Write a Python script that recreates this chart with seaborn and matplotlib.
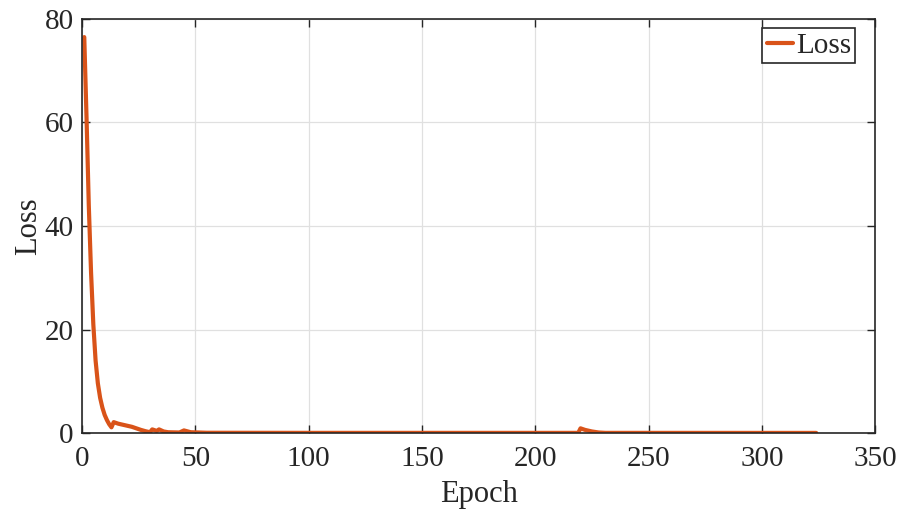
import seaborn as sns
import matplotlib.pyplot as plt
import pandas as pd

# values
epochs = [1, 2, 3, 4, 5, 6, 7, 8, 9, 10, 11, 12, 13, 14, 16, 18, 20, 22, 24,
          26, 28, 30, 31, 33, 34, 36, 38, 43, 45, 48, 55, 100, 219, 220, 222,
          225, 228, 231, 324]
losses = [76.5, 61.0, 44.0, 31.0, 21.0, 14.0, 9.6, 6.8, 4.9, 3.5, 2.5, 1.7,
          1.1, 2.1, 1.8, 1.6, 1.4, 1.2, 0.9, 0.6, 0.35, 0.15, 0.7, 0.4, 0.7,
          0.3, 0.15, 0.1, 0.5, 0.15, 0.05, 0.03, 0.03, 0.9, 0.6, 0.3, 0.1,
          0.03, 0.02]

x_ticks = [0, 50, 100, 150, 200, 250, 300, 350]
y_ticks = [0, 20, 40, 60, 80]

df = pd.DataFrame({"Epoch": epochs, "Loss": losses})

sns.set_style("ticks")
plt.rcParams["font.family"] = ["Liberation Serif", "DejaVu Serif"]

fig = plt.figure(figsize=(9.02, 5.09), dpi=100)
ax = fig.add_axes([0.0909, 0.1493, 0.8793, 0.8134])

sns.lineplot(data=df, x="Epoch", y="Loss", ax=ax, color="#D95319",
             linewidth=3.0, label="Loss")

ax.set_xlim(0, 350)
ax.set_ylim(0, 80)
ax.set_xticks(x_ticks)
ax.set_yticks(y_ticks)
ax.grid(True, color="#e0e0e0", linewidth=0.9)
ax.set_axisbelow(True)
for side in ["top", "right", "bottom", "left"]:
    ax.spines[side].set_visible(True)
    ax.spines[side].set_color("#262626")
    ax.spines[side].set_linewidth(1.2)
ax.tick_params(direction="in", length=6, width=1.0, color="#262626",
               labelsize=21, labelcolor="#262626", top=True, right=True,
               pad=6)
ax.tick_params(axis="x", pad=9)
ax.set_xlabel("Epoch", fontsize=22, labelpad=6)
ax.set_ylabel("Loss", fontsize=22, labelpad=1)

leg = ax.legend(loc="upper right", bbox_to_anchor=(0.975, 0.978),
                fontsize=21, frameon=True, fancybox=False,
                handlelength=0.9, handletextpad=0.1, borderpad=0.15,
                borderaxespad=0.0)
leg.get_frame().set_edgecolor("#262626")
leg.get_frame().set_linewidth(1.2)
leg.get_frame().set_alpha(1)

fig.savefig("out.png", dpi=100)
